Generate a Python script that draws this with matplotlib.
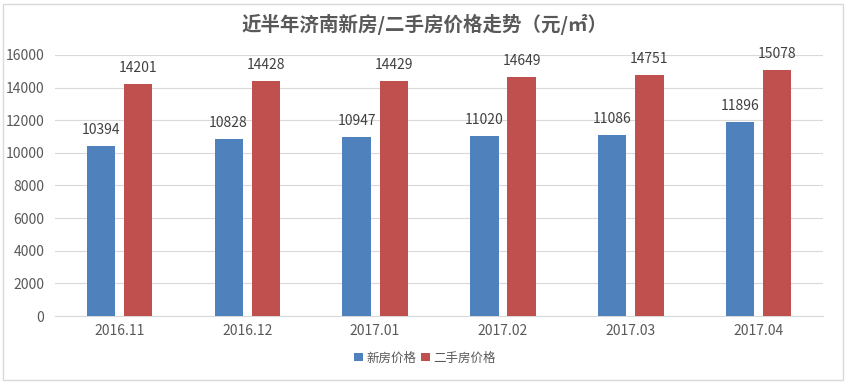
import matplotlib.pyplot as plt
import numpy as np
from matplotlib.patches import Rectangle

plt.rcParams['font.family'] = ['Noto Sans CJK SC', 'DejaVu Sans']

months = ['2016.11', '2016.12', '2017.01', '2017.02', '2017.03', '2017.04']
new_price = [10394, 10828, 10947, 11020, 11086, 11896]
second_price = [14201, 14428, 14429, 14649, 14751, 15078]
yticks = [0, 2000, 4000, 6000, 8000, 10000, 12000, 14000, 16000]

fig = plt.figure(figsize=(8.5, 3.84), dpi=100)
ax = fig.add_axes([0.065, 0.177, 0.903, 0.68])

x = np.arange(len(months))
w = 0.22
b1 = ax.bar(x - 0.145, new_price, w, color='#4F81BD', label='新房价格', zorder=3)
b2 = ax.bar(x + 0.145, second_price, w, color='#C0504D', label='二手房价格', zorder=3)

for bars in (b1, b2):
    for r in bars:
        ax.text(r.get_x() + r.get_width() / 2, r.get_height() + 550, str(int(r.get_height())),
                ha='center', va='bottom', fontsize=10, color='#404040')

ax.set_xlim(-0.5, len(months) - 0.5)
ax.set_ylim(0, 16000)
ax.set_yticks(yticks)
ax.set_xticks(x)
ax.set_xticklabels(months)
ax.tick_params(axis='both', length=0, labelsize=10, labelcolor='#595959')
ax.tick_params(axis='x', pad=6)
ax.tick_params(axis='y', pad=8)
ax.grid(axis='y', color='#D9D9D9', linewidth=0.8, zorder=0)
for s in ['top', 'right', 'left']:
    ax.spines[s].set_visible(False)
ax.spines['bottom'].set_color('#D9D9D9')

fig.text(0.5, 0.935, '近半年济南新房/二手房价格走势（元/㎡）', ha='center', va='center',
         fontsize=14, fontweight='bold', color='#595959')

fig.legend(loc='center', bbox_to_anchor=(0.5, 0.068), ncol=2, frameon=False,
           fontsize=9, handlelength=0.7, handleheight=0.7, handletextpad=0.3,
           columnspacing=0.4, labelcolor='#595959')

# chart border
fig.patches.append(Rectangle((0.004, 0.01), 0.988, 0.98, transform=fig.transFigure,
                             fill=False, edgecolor='#D9D9D9', linewidth=1))

fig.savefig('out.png', dpi=100)
